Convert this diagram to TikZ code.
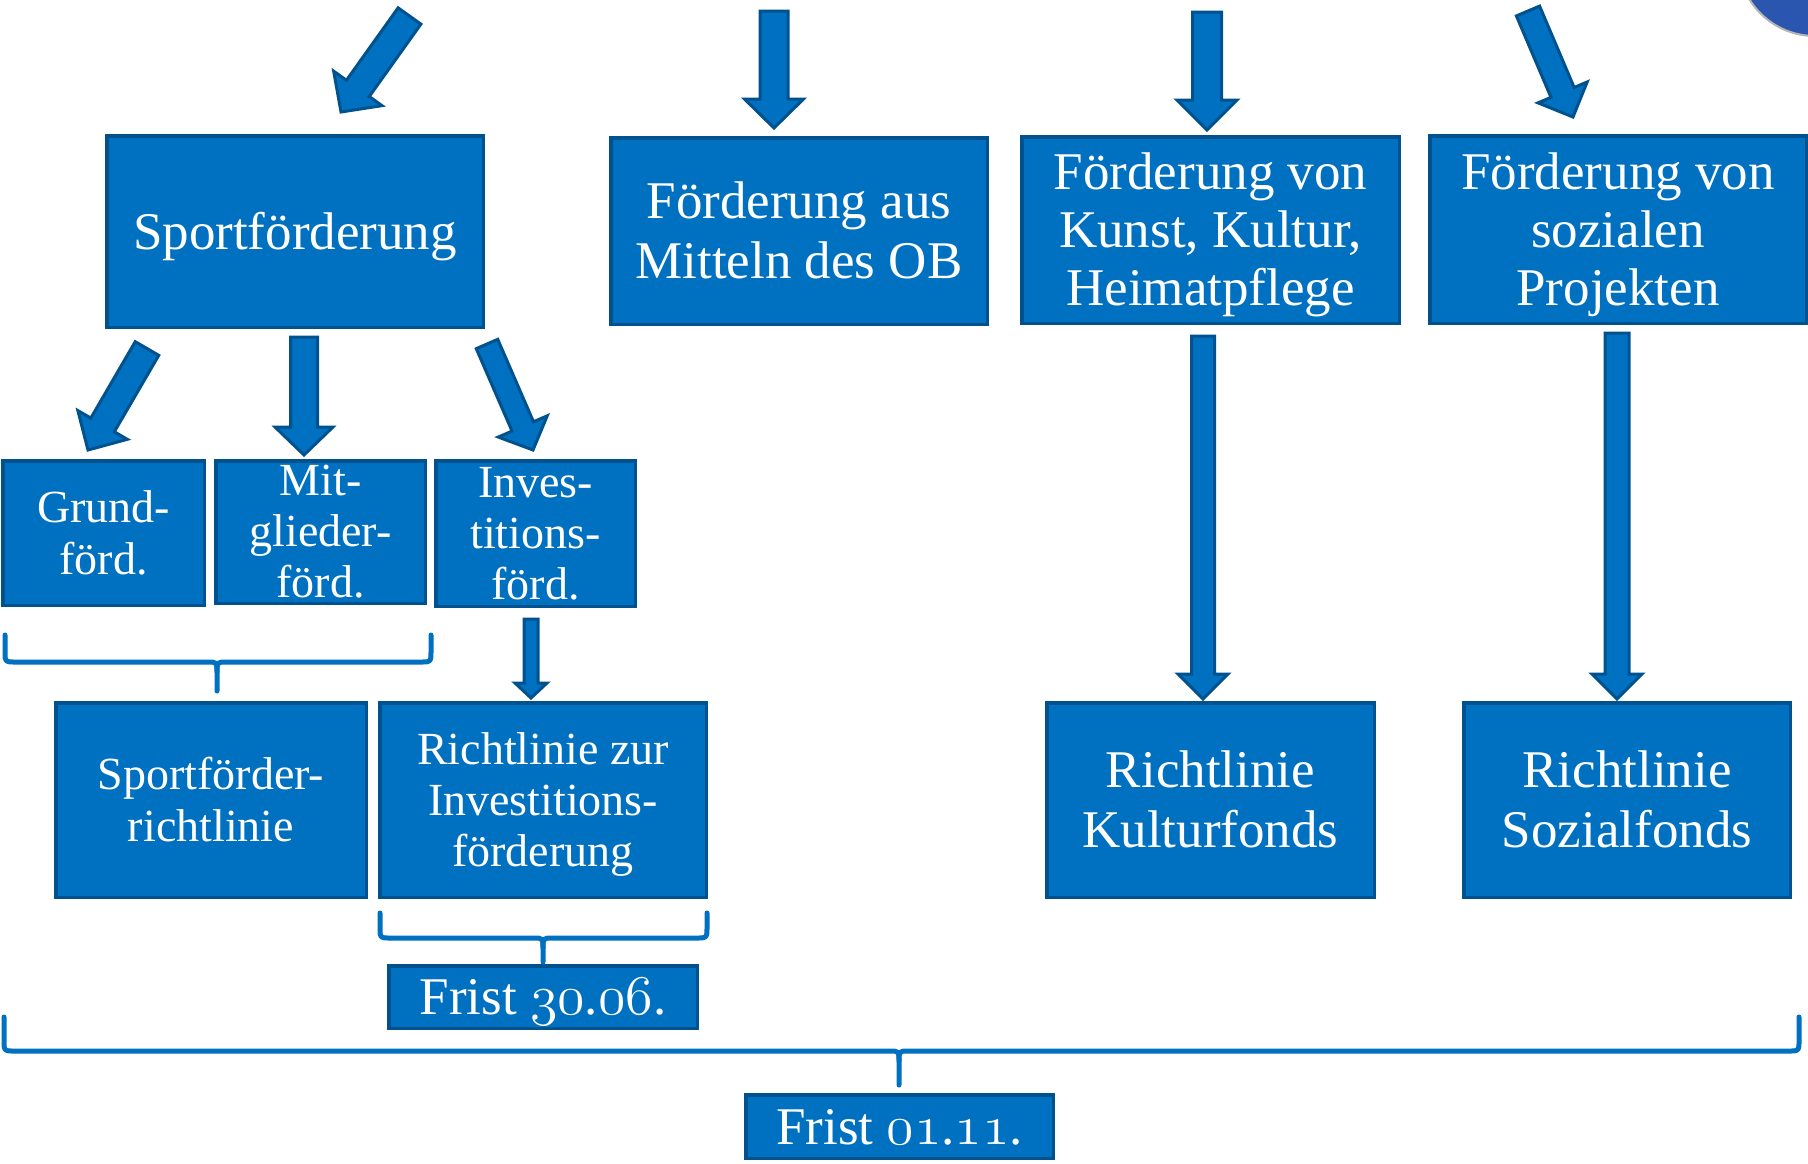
\RequirePackage{fix-cm}
\documentclass[tikz,border=0pt]{standalone}
\usepackage{fontspec}
\setmainfont{Liberation Serif}
\usetikzlibrary{calc}
\definecolor{boxblue}{HTML}{0070C0}
\definecolor{bdr}{HTML}{00528F}
\definecolor{circblue}{HTML}{2A56B0}
\definecolor{circedge}{HTML}{B4B4B4}
\newcommand\osf[1]{{\fontencoding{OML}\fontfamily{cmm}\fontseries{m}\fontshape{it}\fontsize{56}{58}\selectfont #1}}
\newcommand\fs{\rule[-0.22em]{0pt}{1.11em}}
\newcommand\blockarr[5]{%
  \coordinate (nk) at ($(#2)!#5!(#1)$);
  \draw[barr] ($(#1)!#3!90:(#2)$) -- ($(nk)!#3!90:(#2)$) -- ($(nk)!#4!90:(#2)$) -- (#2)
    -- ($(nk)!#4!-90:(#2)$) -- ($(nk)!#3!-90:(#2)$) -- ($(#1)!#3!-90:(#2)$) -- cycle;
}
\begin{document}
\begin{tikzpicture}[x=1pt,y=-1pt,
  box/.style={draw=bdr, line width=3.5pt, fill=boxblue, text=white, align=center, inner sep=0pt},
  big/.style={font=\fontsize{53}{58}\selectfont},
  small/.style={font=\fontsize{46}{51}\selectfont},
  barr/.style={draw=bdr, line width=3pt, fill=boxblue, line join=miter},
  brace/.style={draw=boxblue, line width=5pt, line cap=round, line join=round}]
\useasboundingbox (0,0) rectangle (1808,1163);
\fill[white] (0,0) rectangle (1808,1163);

% partial circle top right
\draw[fill=circblue, draw=circedge, line width=2pt] (1815,-41) circle[radius=77];

% row 1 boxes
\node[box,big,minimum width=376.5pt,minimum height=191.5pt] (sport) at (295,231.5) {\fs Sportförderung};
\node[box,big,minimum width=376.5pt,minimum height=186.5pt] (ob) at (799,231) {\fs Förderung aus\\\fs Mitteln des OB};
\node[box,big,minimum width=377.5pt,minimum height=186.5pt] (kunst) at (1210.5,230) {\fs Förderung von\\Kunst, Kultur,\\\fs Heimatpflege};
\node[box,big,minimum width=376.5pt,minimum height=187.5pt] (sozial) at (1618,229.5) {\fs Förderung von\\sozialen\\\fs Projekten};

% row 2 boxes
\node[box,small,minimum width=201.5pt,minimum height=144.5pt] (grund) at (103.5,533) {\fs Grund-\\\fs förd.};
\node[box,small,minimum width=209.5pt,minimum height=142.5pt] (mitg) at (320.5,532) {Mit-\\glieder-\\förd.};
\node[box,small,minimum width=199.5pt,minimum height=145.5pt] (inv) at (535.5,533.5) {Inves-\\titions-\\förd.};

% row 3 boxes
\node[box,small,minimum width=310.5pt,minimum height=194.5pt] (sfr) at (211,800) {\fs Sportförder-\\\fs richtlinie};
\node[box,small,minimum width=326.5pt,minimum height=194.5pt] (rzi) at (543,800) {\fs Richtlinie zur\\Investitions-\\\fs förderung};
\node[box,big,minimum width=327.5pt,minimum height=194.5pt] (kf) at (1210.5,800) {\fs Richtlinie\\\fs Kulturfonds};
\node[box,big,minimum width=326.5pt,minimum height=194.5pt] (sf) at (1627,800) {\fs Richtlinie\\\fs Sozialfonds};

% deadline boxes
\node[box,big,minimum width=308.5pt,minimum height=62.5pt] (f1) at (543,997) {\fs Frist \osf{30}.\osf{06}.};
\node[box,big,minimum width=307.5pt,minimum height=63.5pt] (f2) at (899.5,1126.5) {\fs Frist \osf{01}.\osf{11}.};

% block arrows
\coordinate (a1t) at (409.5,16);   \coordinate (a1h) at (341,112);
\coordinate (a2t) at (774,11);     \coordinate (a2h) at (774,128);
\coordinate (a3t) at (1207,12);    \coordinate (a3h) at (1207,130);
\coordinate (a4t) at (1528,11);    \coordinate (a4h) at (1573,117);
\coordinate (a5t) at (147,348.5);  \coordinate (a5h) at (88,450);
\coordinate (a6t) at (304,337);    \coordinate (a6h) at (304,455);
\coordinate (a7t) at (487,344);    \coordinate (a7h) at (533,450);
\coordinate (a8t) at (531,619);    \coordinate (a8h) at (531,698);
\coordinate (a9t) at (1203,336);   \coordinate (a9h) at (1203,699);
\coordinate (a10t) at (1617,333);  \coordinate (a10h) at (1617,699);
\blockarr{a1t}{a1h}{14pt}{29.7pt}{29pt}
\blockarr{a2t}{a2h}{14pt}{29.5pt}{29pt}
\blockarr{a3t}{a3h}{14.5pt}{30pt}{30pt}
\blockarr{a4t}{a4h}{12.6pt}{26.7pt}{26.7pt}
\blockarr{a5t}{a5h}{13.6pt}{28.6pt}{29pt}
\blockarr{a6t}{a6h}{13.5pt}{29pt}{28pt}
\blockarr{a7t}{a7h}{11.7pt}{26.7pt}{25.7pt}
\blockarr{a8t}{a8h}{7pt}{16pt}{15pt}
\blockarr{a9t}{a9h}{11.5pt}{25pt}{25pt}
\blockarr{a10t}{a10h}{12pt}{25pt}{25pt}

% braces
\draw[brace] (5,635) -- (5,652) .. controls (5,662) .. (15,662) -- (207,662) .. controls (217,662) .. (217,672) -- (217,691);
\draw[brace] (431,635) -- (431,652) .. controls (431,662) .. (421,662) -- (227,662) .. controls (217,662) .. (217,672);

\draw[brace] (380,913) -- (380,928) .. controls (380,938) .. (390,938) -- (533,938) .. controls (543,938) .. (543,948) -- (543,962);
\draw[brace] (707,913) -- (707,928) .. controls (707,938) .. (697,938) -- (553,938) .. controls (543,938) .. (543,948);

\draw[brace] (4,1017) -- (4,1041) .. controls (4,1051) .. (14,1051) -- (889,1051) .. controls (899,1051) .. (899,1061) -- (899,1085);
\draw[brace] (1799,1017) -- (1799,1041) .. controls (1799,1051) .. (1789,1051) -- (909,1051) .. controls (899,1051) .. (899,1061);
\end{tikzpicture}
\end{document}
